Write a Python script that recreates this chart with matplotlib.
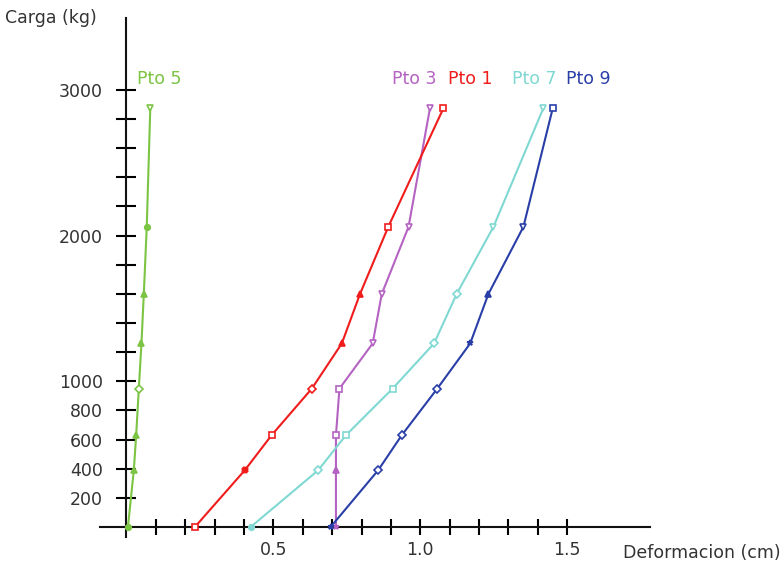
import matplotlib.pyplot as plt

# Data
carga = [0, 390, 630, 950, 1260, 1600, 2060, 2875]
pto5 = [0.005, 0.025, 0.033, 0.042, 0.051, 0.059, 0.069, 0.081]
pto3 = [0.713, 0.713, 0.713, 0.725, 0.838, 0.869, 0.960, 1.033]
pto1 = [0.233, 0.403, 0.494, 0.631, 0.733, 0.795, 0.891, 1.079]
pto7 = [0.423, 0.653, 0.747, 0.906, 1.047, 1.124, 1.249, 1.419]
pto9 = [0.695, 0.857, 0.937, 1.058, 1.170, 1.232, 1.351, 1.451]

series = [
    ("Pto 5", pto5, "#7cc444", ["o", "^", "^", "D", "^", "^", "o", "v"], 0.036),
    ("Pto 3", pto3, "#b463c2", ["*", "^", "s", "s", "v", "v", "v", "v"], 0.904),
    ("Pto 1", pto1, "#f01c1c", ["s", "X", "s", "D", "^", "^", "s", "s"], 1.095),
    ("Pto 7", pto7, "#80d8d2", ["o", "D", "s", "s", "D", "D", "v", "v"], 1.313),
    ("Pto 9", pto9, "#2a3ea8", ["*", "D", "D", "D", "*", "^", "v", "s"], 1.497),
]

y_ticks = list(range(200, 3001, 200))
y_labels = [str(v) if v in (200, 400, 600, 800, 1000, 2000, 3000) else "" for v in y_ticks]
x_ticks = [round(0.1 * i, 1) for i in range(1, 16)]
x_labels = [str(v) if v in (0.5, 1.0, 1.5) else "" for v in x_ticks]

fig = plt.figure(figsize=(7.84, 5.68), dpi=100)
ax = fig.add_axes([0.1276, 0.0546, 0.7015, 0.9137])

for name, xs, color, markers, label_x in series:
    ax.plot(xs, carga, color=color, linewidth=1.5, zorder=2)
    for x, y, m in zip(xs, carga, markers):
        ax.plot(x, y, marker=m, color=color, markersize=4, markerfacecolor="white" if m in "sDv" else color,
                markeredgewidth=1.2, zorder=3)
    ax.text(label_x, 3015, name, color=color, fontsize=12.5, ha="left", va="bottom")

ax.set_xlim(-0.09, 1.782)
ax.set_ylim(-69, 3494)
ax.spines["left"].set_position(("data", 0))
ax.spines["bottom"].set_position(("data", 0))
ax.spines["top"].set_visible(False)
ax.spines["right"].set_visible(False)
for s in ("left", "bottom"):
    ax.spines[s].set_linewidth(1.5)
    ax.spines[s].set_color("#111111")

ax.set_yticks(y_ticks)
ax.set_yticklabels(y_labels)
ax.set_xticks(x_ticks)
ax.set_xticklabels(x_labels)
ax.tick_params(axis="y", direction="inout", length=14, width=1.5, pad=10, labelsize=12.5, labelcolor="#333333")
ax.tick_params(axis="x", direction="inout", length=12, width=1.5, pad=4, labelsize=12.5, labelcolor="#333333")

fig.text(5 / 784, 1 - 18 / 568, "Carga (kg)", fontsize=12.5, color="#333333", ha="left", va="center")
fig.text(781 / 784, 1 - 553 / 568, "Deformacion (cm)", fontsize=12.5, color="#333333", ha="right", va="center")

plt.savefig("out.png", dpi=100)
